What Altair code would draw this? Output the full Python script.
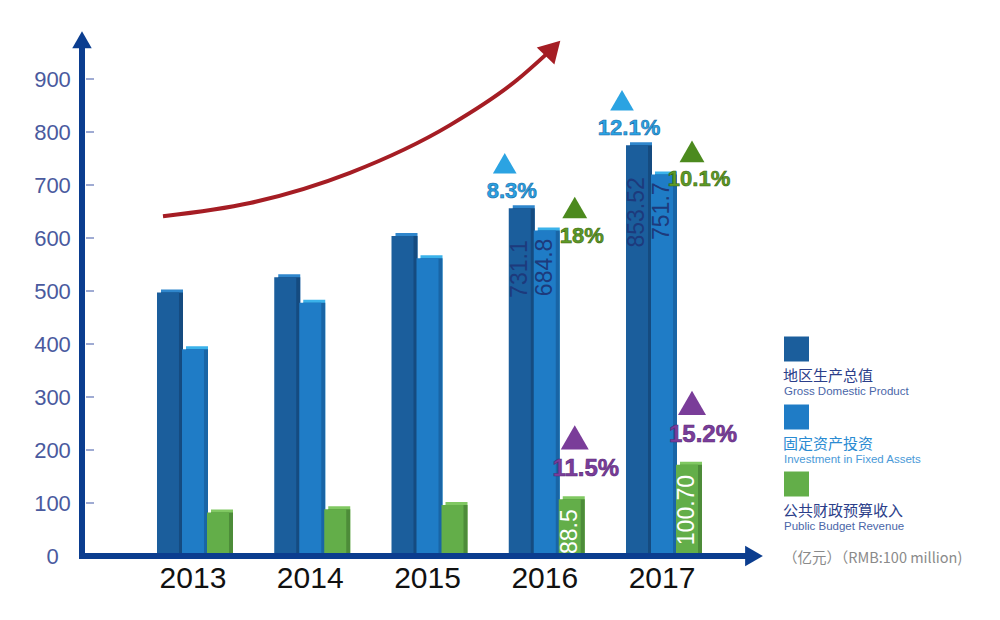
import altair as alt
import pandas as pd

# ---------------- data ----------------
years = ["2013", "2014", "2015", "2016", "2017"]
series = ["GDP", "FAI", "PBR"]
gdp_bar = [497, 526, 604, 656, 775]
fai_bar = [390, 478, 562, 614, 720]
pbr_bar = [82, 88, 96, 107, 172]
gdp_label = ["", "", "", "731.1", "853.52"]
fai_label = ["", "", "", "684.8", "751.7"]
pbr_label = ["", "", "", "88.5", "100.70"]
gdp_growth = ["", "", "", "8.3%", "12.1%"]
fai_growth = ["", "", "", "18%", "10.1%"]
pbr_growth = ["", "", "", "11.5%", "15.2%"]
y_ticks = [0, 100, 200, 300, 400, 500, 600, 700, 800, 900]
trend_x = [2012.744, 2013.486, 2014.339, 2015.192, 2015.763, 2016.015]
trend_y = [641, 666, 723, 813, 898, 947]
trend_head_x = [2016.07]
trend_head_y = [958]
legend_cn = ["地区生产总值", "固定资产投资", "公共财政预算收入"]
legend_en = ["Gross Domestic Product", "Investment in Fixed Assets", "Public Budget Revenue"]
unit_text = "（亿元）（RMB:100 million)"

# ---------------- tables ----------------
rows = []
for s, vals, labs, grs in [("GDP", gdp_bar, gdp_label, gdp_growth),
                           ("FAI", fai_bar, fai_label, fai_growth),
                           ("PBR", pbr_bar, pbr_label, pbr_growth)]:
    for y, v, l, g in zip(years, vals, labs, grs):
        rows.append({"year": y, "series": s, "value": v, "label": l, "growth": g})
df = pd.DataFrame(rows)
trend_df = pd.DataFrame({"tx": trend_x, "value": trend_y})
head_df = pd.DataFrame({"tx": trend_head_x, "value": trend_head_y})
tick_df = pd.DataFrame({"value": y_ticks[1:]})
one = pd.DataFrame({"a": [0]})

# ---------------- styles ----------------
front = {"GDP": "#1b5e9c", "FAI": "#1f7cc6", "PBR": "#63ae49"}
side = {"GDP": "#154b80", "FAI": "#1965a6", "PBR": "#4d8c39"}
topc = {"GDP": "#2f86cc", "FAI": "#3bb2ea", "PBR": "#80c862"}
sub_off = {"GDP": -25, "FAI": 0, "PBR": 25}
label_dy = {"GDP": 32, "FAI": 8, "PBR": 10}
label_col = {"GDP": "#1d3a7c", "FAI": "#1d3a7c", "PBR": "#ffffff"}
# growth marker placement (anchor sub-band, triangle offsets, text offsets)
g_tri = {"GDP": (-40, -45), "FAI": (30, -23), "PBR": (30, -62)}
g_txt = {"GDP": (-33, -17), "FAI": (37, 5), "PBR": (41, -30)}
g_fill = {"GDP": "#2aa3e3", "FAI": "#5e9a26", "PBR": "#7b3d9b"}
g_stroke = {"GDP": "#1a6aa8", "FAI": "#3b6a12", "PBR": "#5a2a78"}
g_tri_col = {"GDP": "#2ba3e2", "FAI": "#4c8a1e", "PBR": "#7a3d99"}
g_size = {"GDP": 560, "FAI": 620, "PBR": 784}
g_font = {"GDP": 22, "FAI": 22, "PBR": 24}
axis_c = "#0b3d8f"

X = alt.X("year:N", scale=alt.Scale(domain=years, paddingInner=0.3603, paddingOuter=0.6183),
          axis=alt.Axis(title=None, domain=False, ticks=False, grid=False, labelAngle=0,
                        labelFontSize=30, labelColor="#111111", labelFont="Liberation Sans",
                        labelPadding=7, tickSize=0))
Y = alt.Y("value:Q", scale=alt.Scale(domain=[0, 1000], nice=False, zero=True),
          axis=alt.Axis(values=y_ticks, title=None, domain=False, ticks=False, grid=False,
                        labelFontSize=22, labelColor="#4a5a9e", labelFont="Liberation Sans",
                        labelAlign="center", labelPadding=31, tickSize=0))

base = alt.Chart(df)
layers = []
# 3D-looking bars: top face, side face, front face
for face in ["top", "side", "front"]:
    for s in series:
        col = {"top": topc, "side": side, "front": front}[face][s]
        kw = dict(width=22, color=col, xOffset=sub_off[s] + (0 if face == "front" else 4))
        if face == "top":
            kw.update(yOffset=-3, y2Offset=-3)
        layers.append(base.transform_filter(alt.datum.series == s).mark_bar(**kw).encode(x=X, y=Y))

# value labels inside bars (rotated; dx runs along the text direction)
for s in series:
    layers.append(
        base.transform_filter((alt.datum.series == s) & (alt.datum.label != ""))
        .mark_text(angle=270, align="right", baseline="middle", xOffset=sub_off[s], dx=-label_dy[s],
                   fontSize=23, font="Liberation Sans", color=label_col[s])
        .encode(x=X, y=Y, text="label:N"))

# growth markers
for s in series:
    flt = base.transform_filter((alt.datum.series == s) & (alt.datum.growth != ""))
    layers.append(flt.mark_point(shape="triangle-up", filled=True, opacity=1, size=g_size[s],
                                 color=g_tri_col[s], xOffset=g_tri[s][0], yOffset=g_tri[s][1])
                  .encode(x=X, y=Y))
    layers.append(flt.mark_text(align="center", baseline="middle", fontSize=g_font[s],
                                font="Liberation Sans", fontWeight="bold", color=g_fill[s],
                                stroke=g_stroke[s], strokeWidth=0.6,
                                xOffset=g_txt[s][0], yOffset=g_txt[s][1])
                  .encode(x=X, y=Y, text="growth:N"))

# axes drawn as arrows
ob = alt.Chart(one)
layers.append(alt.Chart(tick_df).mark_rule(color="#7f8fc4", strokeWidth=1.5)
              .encode(x=alt.value(3), x2=alt.value(11), y=Y))
layers.append(ob.mark_rule(color=axis_c, strokeWidth=6)
              .encode(x=alt.value(-1), y=alt.datum(-5), y2=alt.datum(962)))
layers.append(ob.mark_rule(color=axis_c, strokeWidth=6)
              .encode(x=alt.value(-4), x2=alt.value(664), y=alt.datum(0)))
layers.append(ob.mark_point(shape="triangle-up", filled=True, opacity=1, size=380, color=axis_c)
              .encode(x=alt.value(-1), y=alt.datum(974)))
layers.append(ob.mark_point(shape="triangle-right", filled=True, opacity=1, size=420, color=axis_c)
              .encode(x=alt.value(671), y=alt.datum(0)))

# legend (custom)
row_y = [323, 391, 458]
cn_col = ["#2b3e8a", "#2a8bd2", "#2b3e8a"]
en_col = ["#4a66a8", "#4a9ad8", "#4a66a8"]
for i, s in enumerate(series):
    layers.append(ob.mark_square(size=625, opacity=1, color=front[s])
                  .encode(x=alt.value(713.5), y=alt.value(row_y[i])))
    layers.append(alt.Chart(pd.DataFrame({"t": [legend_cn[i]]}))
                  .mark_text(align="left", baseline="middle", fontSize=15, font="Noto Sans CJK SC",
                             color=cn_col[i])
                  .encode(x=alt.value(700), y=alt.value(row_y[i] + 27), text="t:N"))
    layers.append(alt.Chart(pd.DataFrame({"t": [legend_en[i]]}))
                  .mark_text(align="left", baseline="middle", fontSize=11.5, font="Liberation Sans",
                             color=en_col[i])
                  .encode(x=alt.value(701), y=alt.value(row_y[i] + 43), text="t:N"))
layers.append(alt.Chart(pd.DataFrame({"t": [unit_text]}))
              .mark_text(align="left", baseline="middle", fontSize=14.5, font="Noto Sans CJK SC",
                         color="#8a8a8a")
              .encode(x=alt.value(700), y=alt.value(533), text="t:N"))

bars = alt.layer(*layers)

# red trend arrow
XT = alt.X("tx:Q", scale=alt.Scale(domain=[2012.0618, 2017.9382], nice=False, zero=False), axis=None)
trend = alt.layer(
    alt.Chart(trend_df).mark_line(color="#a51d24", strokeWidth=4, interpolate="monotone")
    .encode(x=XT, y=Y),
    alt.Chart(head_df).mark_point(shape="triangle-right", angle=314, size=600, filled=True,
                                  opacity=1, color="#a51d24")
    .encode(x=XT, y=Y),
)

chart = alt.layer(bars, trend).resolve_scale(x="independent").properties(
    width=689, height=530,
    autosize=alt.AutoSizeParams(type="none"),
    padding={"left": 83, "top": 26, "right": 228, "bottom": 64},
    background="white",
).configure_view(stroke=None)

chart.save("out.html", embed_options={"renderer": "svg", "actions": False})
